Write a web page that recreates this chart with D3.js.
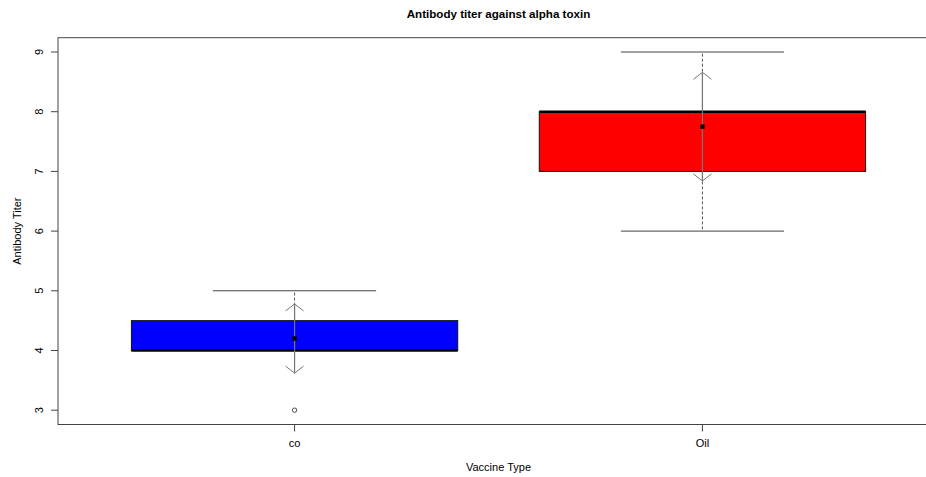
<!DOCTYPE html>
<html lang="en">
<head>
  <meta charset="utf-8">
  <title>Antibody titer against alpha toxin</title>
  <style>
    body { margin:0; background:#fff; overflow:hidden; }
    svg  { display:block; }
    text { font-family: Arial, "Liberation Sans", sans-serif; fill:#000; }
  </style>
</head>
<body>
<script src="https://d3js.org/d3.v7.min.js"></script>
<script>

// -- data --
const groups     = ["co", "Oil"];
const q1         = [4, 7];
const medians    = [4, 8];
const q3         = [4.5, 8];
const whiskerLow = [4, 6];
const whiskerHigh= [5, 9];
const outliers   = [[3], []];
const means      = [4.2, 7.75];
const arrowLow   = [3.62, 6.84];
const arrowHigh  = [4.78, 8.66];
const yTicks     = [3, 4, 5, 6, 7, 8, 9];

const width = 926, height = 477;
const margin = { top: 37.7, right: -13, bottom: 52.5, left: 58 };

const svg = d3.select("body").append("svg")
  .attr("width", width)
  .attr("height", height);

// R style extended ranges
const x = d3.scaleLinear()
  .domain([0.42, 2.58])
  .range([margin.left, width - margin.right]);

const y = d3.scaleLinear()
  .domain([2.76, 9.24])
  .range([height - margin.bottom, margin.top]);

const boxW = 0.8, capW = 0.4;

// -- boxes --
const g = svg.append("g");

groups.forEach((name, i) => {
  const cx = x(i + 1);
  const color = i === 0 ? "#0000ff" : "#ff0000";

  // dashed whiskers
  if (whiskerHigh[i] > q3[i]) {
    g.append("line")
      .attr("x1", cx).attr("x2", cx)
      .attr("y1", y(q3[i])).attr("y2", y(whiskerHigh[i]))
      .attr("stroke", "#555").attr("stroke-dasharray", "3,2");
  }
  if (whiskerLow[i] < q1[i]) {
    g.append("line")
      .attr("x1", cx).attr("x2", cx)
      .attr("y1", y(q1[i])).attr("y2", y(whiskerLow[i]))
      .attr("stroke", "#555").attr("stroke-dasharray", "3,2");
  }

  // whisker caps
  [whiskerLow[i], whiskerHigh[i]].forEach(v => {
    g.append("line")
      .attr("x1", x(i + 1 - capW / 2)).attr("x2", x(i + 1 + capW / 2))
      .attr("y1", y(v)).attr("y2", y(v))
      .attr("stroke", "#444").attr("stroke-width", 1);
  });

  // box
  g.append("rect")
    .attr("x", x(i + 1 - boxW / 2))
    .attr("y", y(q3[i]))
    .attr("width", x(i + 1 + boxW / 2) - x(i + 1 - boxW / 2))
    .attr("height", y(q1[i]) - y(q3[i]))
    .attr("fill", color)
    .attr("stroke", "#111")
    .attr("stroke-width", 1);

  // median
  g.append("line")
    .attr("x1", x(i + 1 - boxW / 2)).attr("x2", x(i + 1 + boxW / 2))
    .attr("y1", y(medians[i])).attr("y2", y(medians[i]))
    .attr("stroke", "#000").attr("stroke-width", 2.5);

  // outliers
  outliers[i].forEach(v => {
    g.append("circle")
      .attr("cx", cx).attr("cy", y(v)).attr("r", 2.2)
      .attr("fill", "none").attr("stroke", "#222").attr("stroke-width", 0.8);
  });

  // mean arrows
  g.append("line")
    .attr("x1", cx).attr("x2", cx)
    .attr("y1", y(arrowLow[i])).attr("y2", y(arrowHigh[i]))
    .attr("stroke", "#777").attr("stroke-width", 1.2);

  const head = (v, dir) => {
    const ty = y(v);
    g.append("path")
      .attr("d", `M${cx - 9},${ty + dir * 7}L${cx},${ty}L${cx + 9},${ty + dir * 7}`)
      .attr("fill", "none").attr("stroke", "#777").attr("stroke-width", 1);
  };
  head(arrowHigh[i], 1);
  head(arrowLow[i], -1);

  // mean point
  g.append("rect")
    .attr("x", cx - 2.2).attr("y", y(means[i]) - 2.2)
    .attr("width", 4.4).attr("height", 4.4)
    .attr("fill", "#000");
});

// -- frame --
svg.append("rect")
  .attr("x", x.range()[0]).attr("y", y.range()[1])
  .attr("width", x.range()[1] - x.range()[0])
  .attr("height", y.range()[0] - y.range()[1])
  .attr("fill", "none").attr("stroke", "#444").attr("stroke-width", 1);

// -- y axis --
const yAxis = svg.append("g");
yTicks.forEach(t => {
  yAxis.append("line")
    .attr("x1", margin.left - 7).attr("x2", margin.left)
    .attr("y1", y(t)).attr("y2", y(t))
    .attr("stroke", "#444");
  yAxis.append("text")
    .attr("transform", `translate(${margin.left - 15},${y(t)}) rotate(-90)`)
    .attr("text-anchor", "middle")
    .style("font-size", "11px")
    .text(t);
});

// -- x axis --
const xAxis = svg.append("g");
groups.forEach((name, i) => {
  xAxis.append("line")
    .attr("x1", x(i + 1)).attr("x2", x(i + 1))
    .attr("y1", y.range()[0]).attr("y2", y.range()[0] + 7)
    .attr("stroke", "#444");
  xAxis.append("text")
    .attr("x", x(i + 1)).attr("y", y.range()[0] + 22)
    .attr("text-anchor", "middle")
    .style("font-size", "11px")
    .text(name);
});

// -- labels --
const plotCx = (x.range()[0] + x.range()[1]) / 2;
const plotCy = (y.range()[0] + y.range()[1]) / 2;

svg.append("text")
  .attr("x", plotCx).attr("y", 18)
  .attr("text-anchor", "middle")
  .style("font-size", "11.6px").style("font-weight", "bold")
  .text("Antibody titer against alpha toxin");

svg.append("text")
  .attr("x", plotCx).attr("y", 471)
  .attr("text-anchor", "middle")
  .style("font-size", "11px")
  .text("Vaccine Type");

svg.append("text")
  .attr("transform", `translate(21,${plotCy}) rotate(-90)`)
  .attr("text-anchor", "middle")
  .style("font-size", "11px")
  .text("Antibody Titer");

</script>
</body>
</html>
